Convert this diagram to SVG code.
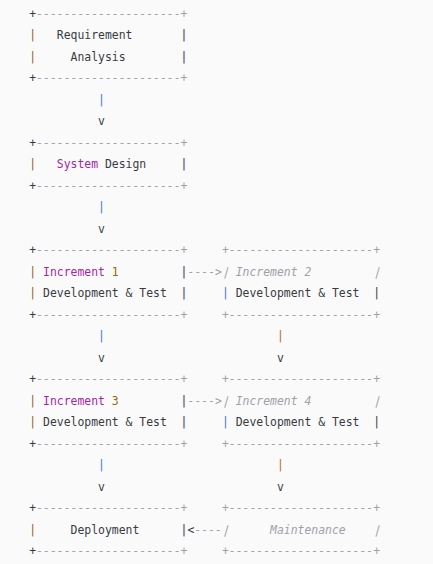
<svg xmlns="http://www.w3.org/2000/svg" width="433" height="564" viewBox="0 0 433 564">
<style>
text{font-family:"DejaVu Sans Mono","Liberation Mono",monospace;font-size:11.43px;fill:#383a42}
.c{fill:#a0a1a7;font-style:italic}
.k{fill:#a626a4}
.n{fill:#986801}
.pl{fill:#9a5a2a}
.pr{fill:#4b2a57}
.pb{fill:#3f7ad6}
.po{fill:#c06a1c}
.sl{fill:#a0a1a7}
</style>
<rect width="433" height="564" fill="#fafafa"/>
<g id="requirement-analysis">
<text x="29.26" y="17.5">+</text><text class="c" x="36.14" y="17.5">---------------------+</text>
<text class="pl" x="29.26" y="39">|</text><text x="56.78" y="39">Requirement</text><text class="pr" x="180.62" y="39">|</text>
<text class="pl" x="29.26" y="60.5">|</text><text x="70.54" y="60.5">Analysis</text><text class="pr" x="180.62" y="60.5">|</text>
<text x="29.26" y="82">+</text><text class="c" x="36.14" y="82">---------------------+</text>
</g>
<g id="system-design">
<text x="29.26" y="146.5">+</text><text class="c" x="36.14" y="146.5">---------------------+</text>
<text class="pl" x="29.26" y="168">|</text><text class="k" x="56.78" y="168">System</text><text x="104.94" y="168">Design</text><text class="pr" x="180.62" y="168">|</text>
<text x="29.26" y="189.5">+</text><text class="c" x="36.14" y="189.5">---------------------+</text>
</g>
<g id="increment-1">
<text x="29.26" y="254">+</text><text class="c" x="36.14" y="254">---------------------+</text>
<text class="pl" x="29.26" y="275.5">|</text><text class="k" x="43.02" y="275.5">Increment</text><text class="n" x="111.82" y="275.5">1</text><text class="pr" x="180.62" y="275.5">|</text>
<text class="pl" x="29.26" y="297">|</text><text x="43.02" y="297">Development &amp; Test</text><text class="pr" x="180.62" y="297">|</text>
<text x="29.26" y="318.5">+</text><text class="c" x="36.14" y="318.5">---------------------+</text>
</g>
<g id="increment-2">
<text class="c" x="221.9" y="254">+---------------------+</text>
<text class="sl" transform="translate(221.9,275.5) skewX(-16)">|</text><text class="c" x="235.66" y="275.5">Increment 2</text><text class="sl" transform="translate(373.26,275.5) skewX(-16)">|</text>
<text class="pb" x="221.9" y="297">|</text><text x="235.66" y="297">Development &amp; Test</text><text x="373.26" y="297">|</text>
<text class="c" x="221.9" y="318.5">+---------------------+</text>
</g>
<g id="increment-3">
<text x="29.26" y="383">+</text><text class="c" x="36.14" y="383">---------------------+</text>
<text class="pl" x="29.26" y="404.5">|</text><text class="k" x="43.02" y="404.5">Increment</text><text class="n" x="111.82" y="404.5">3</text><text class="pr" x="180.62" y="404.5">|</text>
<text class="pl" x="29.26" y="426">|</text><text x="43.02" y="426">Development &amp; Test</text><text class="pr" x="180.62" y="426">|</text>
<text x="29.26" y="447.5">+</text><text class="c" x="36.14" y="447.5">---------------------+</text>
</g>
<g id="increment-4">
<text class="c" x="221.9" y="383">+---------------------+</text>
<text class="sl" transform="translate(221.9,404.5) skewX(-16)">|</text><text class="c" x="235.66" y="404.5">Increment 4</text><text class="sl" transform="translate(373.26,404.5) skewX(-16)">|</text>
<text class="pb" x="221.9" y="426">|</text><text x="235.66" y="426">Development &amp; Test</text><text x="373.26" y="426">|</text>
<text class="c" x="221.9" y="447.5">+---------------------+</text>
</g>
<g id="deployment">
<text x="29.26" y="512">+</text><text class="c" x="36.14" y="512">---------------------+</text>
<text class="pl" x="29.26" y="533.5">|</text><text x="70.54" y="533.5">Deployment</text><text class="pr" x="180.62" y="533.5">|</text>
<text x="29.26" y="555">+</text><text class="c" x="36.14" y="555">---------------------+</text>
</g>
<g id="maintenance">
<text class="c" x="221.9" y="512">+---------------------+</text>
<text class="sl" transform="translate(221.9,533.5) skewX(-16)">|</text><text class="c" x="270.06" y="533.5">Maintenance</text><text class="sl" transform="translate(373.26,533.5) skewX(-16)">|</text>
<text class="c" x="221.9" y="555">+---------------------+</text>
</g>
<g id="connectors">
<text class="pb" x="98.06" y="103.5">|</text><text x="98.06" y="125">v</text>
<text class="pb" x="98.06" y="211">|</text><text x="98.06" y="232.5">v</text>
<text class="c" x="187.5" y="275.5">----&gt;</text>
<text class="pb" x="98.06" y="340">|</text><text x="98.06" y="361.5">v</text>
<text class="po" x="276.94" y="340">|</text><text x="276.94" y="361.5">v</text>
<text class="c" x="187.5" y="404.5">----&gt;</text>
<text class="pb" x="98.06" y="469">|</text><text x="98.06" y="490.5">v</text>
<text class="po" x="276.94" y="469">|</text><text x="276.94" y="490.5">v</text>
<text x="187.5" y="533.5">&lt;</text><text class="c" x="194.38" y="533.5">----</text>
</g>
</svg>
